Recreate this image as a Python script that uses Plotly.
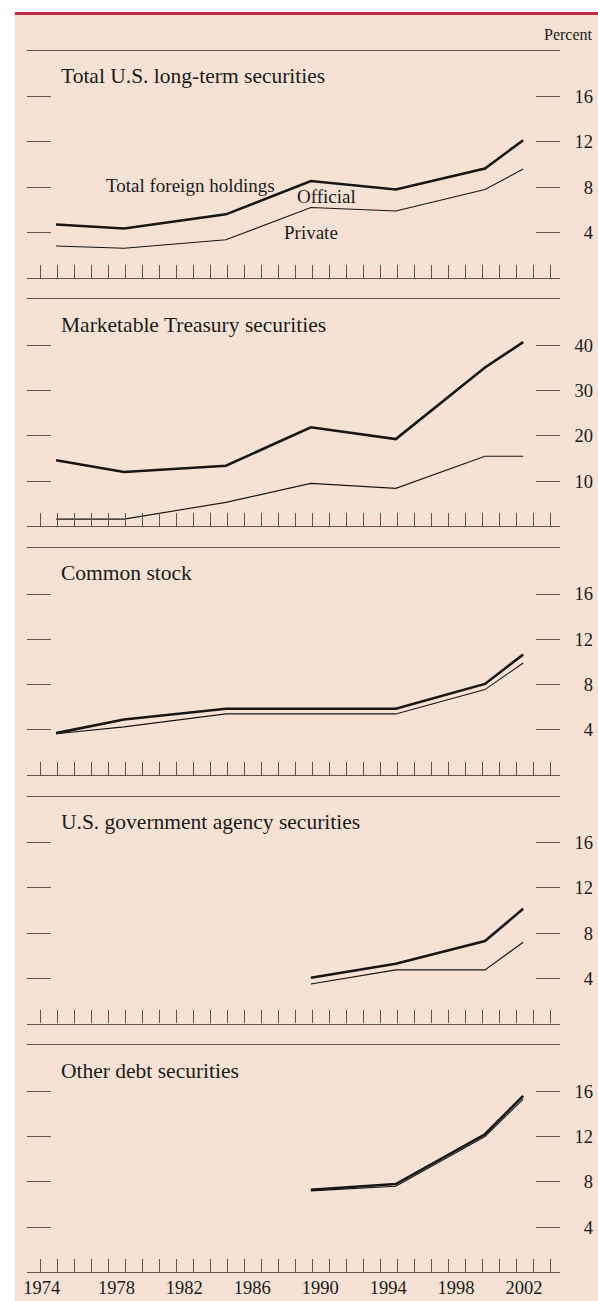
import plotly.graph_objects as go

W, H = 598, 1301
FONT = "Liberation Serif"

# ---- data (percent) ----
survey_dates = [1974.92, 1978.92, 1984.92, 1989.92, 1994.92, 2000.17, 2002.42]
late_dates = [1989.92, 1994.92, 2000.17, 2002.42]

total_longterm = [4.7, 4.35, 5.6, 8.55, 7.8, 9.65, 12.15]
private_longterm = [2.8, 2.6, 3.35, 6.2, 5.9, 7.8, 9.6]
total_treasury = [14.6, 12.0, 13.4, 21.9, 19.3, 35.1, 40.7]
private_treasury = [1.6, 1.6, 5.3, 9.5, 8.4, 15.5, 15.5]
total_stock = [3.7, 4.9, 5.85, 5.85, 5.85, 8.05, 10.65]
private_stock = [3.65, 4.25, 5.4, 5.4, 5.4, 7.55, 9.9]
total_agency = [4.05, 5.3, 7.3, 10.15]
private_agency = [3.5, 4.75, 4.75, 7.2]
total_other = [7.3, 7.8, 12.2, 15.6]
private_other = [7.2, 7.6, 12.0, 15.3]

titles = ["Total U.S. long-term securities", "Marketable Treasury securities",
          "Common stock", "U.S. government agency securities", "Other debt securities"]
ticks_small = [4, 8, 12, 16]
ticks_big = [10, 20, 30, 40]
year_labels = ["1974", "1978", "1982", "1986", "1990", "1994", "1998", "2002"]
year_label_pos = [1974.08, 1978.47, 1982.47, 1986.47, 1990.47, 1994.47, 1998.47, 2002.47]
minor_years = list(range(1974, 2005))

panels = [
    (survey_dates, total_longterm, private_longterm, ticks_small),
    (survey_dates, total_treasury, private_treasury, ticks_big),
    (survey_dates, total_stock, private_stock, ticks_small),
    (late_dates, total_agency, private_agency, ticks_small),
    (late_dates, total_other, private_other, ticks_small),
]

# ---- layout geometry ----
PX_PER_YEAR = 17.1
X0_PX, X1_PX = 23.3, 559.3
X_LO = 1974 - (36.7 - X0_PX) / PX_PER_YEAR
X_HI = X_LO + (X1_PX - X0_PX) / PX_PER_YEAR
PANEL_H = 227.0
PANEL_STEP = 248.65
FIRST_TOP = 50.7
AXIS_COLOR = "#5a5552"
LINE_COLOR = "#161616"

fig = go.Figure()
layout = dict(
    width=W, height=H,
    margin=dict(l=0, r=0, t=0, b=0),
    paper_bgcolor="white",
    plot_bgcolor="rgba(0,0,0,0)",
    showlegend=False,
    font=dict(family=FONT, color="#1a1a1a"),
    shapes=[
        dict(type="rect", xref="paper", yref="paper", x0=11 / W, x1=1, y0=0, y1=1 - 15 / H,
             fillcolor="#f6e2d5", line=dict(width=0), layer="below"),
        dict(type="line", xref="paper", yref="paper", x0=11 / W, x1=1,
             y0=1 - 13.5 / H, y1=1 - 13.5 / H, line=dict(color="#bf2c45", width=3), layer="below"),
    ],
    annotations=[
        dict(text="Percent", xref="paper", yref="paper", x=595 / W, y=1 - 34.3 / H,
             xanchor="right", yanchor="middle", showarrow=False, font=dict(size=16, family=FONT)),
    ],
)

for i, (xs, tot, prv, yt) in enumerate(panels, start=1):
    top = FIRST_TOP + PANEL_STEP * (i - 1)
    bot = top + PANEL_H
    px_per_unit = 181.0 / yt[-1]
    ymax = PANEL_H / px_per_unit
    xa = "x" if i == 1 else f"x{i}"
    ya = "y" if i == 1 else f"y{i}"
    fig.add_trace(go.Scatter(x=xs, y=prv, mode="lines", xaxis=xa, yaxis=ya,
                             line=dict(color=LINE_COLOR, width=1.1), hoverinfo="skip"))
    fig.add_trace(go.Scatter(x=xs, y=tot, mode="lines", xaxis=xa, yaxis=ya,
                             line=dict(color=LINE_COLOR, width=2.6), hoverinfo="skip"))
    key = "" if i == 1 else str(i)
    layout[f"xaxis{key}"] = dict(
        domain=[X0_PX / W, X1_PX / W], range=[X_LO, X_HI], anchor=ya,
        showline=True, mirror=True, linecolor=AXIS_COLOR, linewidth=1.4,
        ticks="inside", tickmode="array", tickvals=[X_LO + 0.01, X_HI - 0.01],
        ticklen=18, tickwidth=1.4, tickcolor=AXIS_COLOR, showticklabels=False,
        minor=dict(tickmode="array", tickvals=minor_years, ticks="inside",
                   ticklen=13, tickwidth=1.3, tickcolor=AXIS_COLOR, showgrid=False),
        showgrid=False, zeroline=False, fixedrange=True,
    )
    ticktext = [("\u00a0\u00a0" + str(v)) if v < 10 else str(v) for v in yt]
    layout[f"yaxis{key}"] = dict(
        domain=[1 - bot / H, 1 - top / H], range=[0, ymax], anchor=xa,
        side="right", ticks="inside", ticklen=24, tickwidth=1.4, tickcolor=AXIS_COLOR,
        mirror="ticks", showline=False, tickmode="array", tickvals=yt, ticktext=ticktext,
        tickfont=dict(size=18.5, family=FONT, color="#1a1a1a"), ticklabelstandoff=14,
        showgrid=False, zeroline=False, fixedrange=True,
    )
    layout["annotations"].append(dict(
        text=titles[i - 1], xref="paper", yref="paper", x=55.3 / W, y=1 - (top + 25.3) / H,
        xanchor="left", yanchor="middle", showarrow=False, font=dict(size=21.5, family=FONT)))

# year labels on an overlaying axis of the bottom panel
fig.add_trace(go.Scatter(x=[], y=[], xaxis="x6", yaxis="y5", hoverinfo="skip"))
layout["xaxis6"] = dict(
    overlaying="x5", anchor="y5", side="bottom", range=[X_LO, X_HI],
    tickmode="array", tickvals=year_label_pos, ticktext=year_labels, ticks="",
    tickfont=dict(size=18.5, family=FONT, color="#1a1a1a"), ticklabelstandoff=2,
    showline=False, showgrid=False, zeroline=False, fixedrange=True,
)

for txt, xl, yc in [("Total foreign holdings", 100.3, 185), ("Official", 292.9, 196),
                    ("Private", 280.3, 232.7)]:
    layout["annotations"].append(dict(
        text=txt, xref="paper", yref="paper", x=xl / W, y=1 - yc / H,
        xanchor="left", yanchor="middle", showarrow=False, font=dict(size=19, family=FONT)))

fig.update_layout(**layout)
fig.write_html("out.html", config={"displayModeBar": False},
               post_script="document.body.style.margin='0';document.body.style.overflow='hidden';")
